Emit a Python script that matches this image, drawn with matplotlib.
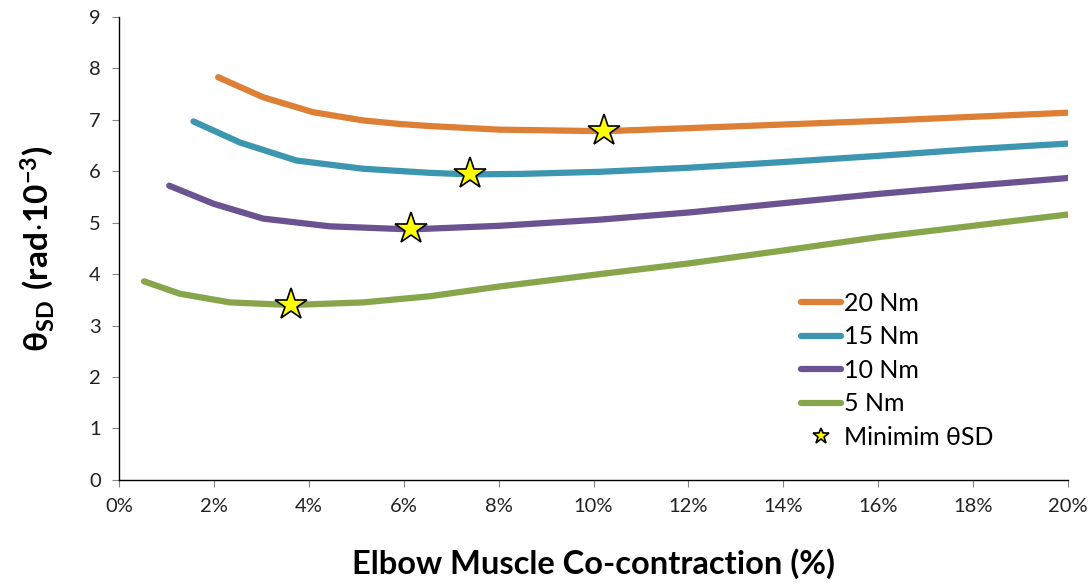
import matplotlib
matplotlib.use("Agg")
import matplotlib.pyplot as plt
from matplotlib.ticker import FuncFormatter

plt.rcParams['font.family'] = ['Lato', 'DejaVu Sans']
plt.rcParams['mathtext.fontset'] = 'custom'
plt.rcParams['mathtext.rm'] = 'Lato'
plt.rcParams['mathtext.bf'] = 'Lato:bold'

# co-contraction (%) and theta_SD (rad*10^-3)
x_20 = [2.09, 3.04, 4.09, 5.14, 5.92, 6.55, 8.02, 10.23, 12.02, 14.0, 16.0, 18.0, 20.0]
y_20 = [7.83, 7.44, 7.15, 6.99, 6.92, 6.88, 6.81, 6.78, 6.84, 6.91, 6.98, 7.06, 7.14]

x_15 = [1.57, 2.55, 3.74, 5.14, 6.55, 7.39, 8.5, 10.13, 12.02, 14.0, 16.0, 18.0, 20.0]
y_15 = [6.97, 6.56, 6.21, 6.05, 5.97, 5.94, 5.95, 5.99, 6.07, 6.18, 6.30, 6.43, 6.54]

x_10 = [1.06, 1.99, 3.04, 4.44, 6.15, 8.02, 10.13, 12.02, 14.0, 16.0, 18.0, 20.0]
y_10 = [5.72, 5.37, 5.08, 4.93, 4.87, 4.94, 5.06, 5.20, 5.38, 5.56, 5.72, 5.87]

x_5 = [0.53, 1.28, 2.34, 3.62, 5.14, 6.55, 8.02, 10.13, 12.02, 14.0, 16.0, 18.0, 20.0]
y_5 = [3.86, 3.62, 3.45, 3.40, 3.45, 3.57, 3.76, 4.00, 4.21, 4.46, 4.72, 4.94, 5.16]

min_x = [10.23, 7.39, 6.15, 3.62]
min_y = [6.78, 5.94, 4.87, 3.40]

labels = ['20 Nm', '15 Nm', '10 Nm', '5 Nm']
colors = ['#DE7F36', '#3D96AF', '#6B5291', '#87A64B']

fig = plt.figure(figsize=(10.91, 5.88), dpi=100)
ax = fig.add_axes([0.109, 0.184, 0.870, 0.787])

for xs, ys, lab, col in zip([x_20, x_15, x_10, x_5], [y_20, y_15, y_10, y_5], labels, colors):
    ax.plot([v / 100 for v in xs], ys, color=col, lw=4.5, label=lab,
            solid_capstyle='round', solid_joinstyle='round')

ax.plot([v / 100 for v in min_x], min_y, ls='none', marker='*', ms=24,
        mfc='#FFFF00', mec='black', mew=1.2, label='Minimim θSD', zorder=5)

ax.set_xlim(0, 0.20)
ax.set_ylim(0, 9)
ax.set_xticks([i / 100 for i in range(0, 21, 2)])
ax.set_yticks(range(0, 10))
ax.xaxis.set_major_formatter(FuncFormatter(lambda v, p: '%d%%' % round(v * 100)))

for s in ['top', 'right']:
    ax.spines[s].set_visible(False)
for s in ['left', 'bottom']:
    ax.spines[s].set_color('#000000')
    ax.spines[s].set_linewidth(1.0)
ax.tick_params(direction='out', length=5, color='#868686', labelsize=14.5, labelcolor='#222222')
ax.tick_params(axis='x', pad=8)
ax.tick_params(axis='y', pad=8)

ax.set_xlabel('Elbow Muscle Co-contraction (%)', fontsize=23.5, fontweight='bold', labelpad=24)
ax.set_ylabel(r'$\mathbf{\theta_{SD}\ (rad{\cdot}10^{-3})}$', fontsize=24, labelpad=24)

leg = ax.legend(loc='upper left', bbox_to_anchor=(0.695, 0.455), frameon=False, fontsize=18,
                handlelength=1.6, handletextpad=0.1, labelspacing=0.42, markerscale=0.5)

fig.savefig('out.png', dpi=100)
